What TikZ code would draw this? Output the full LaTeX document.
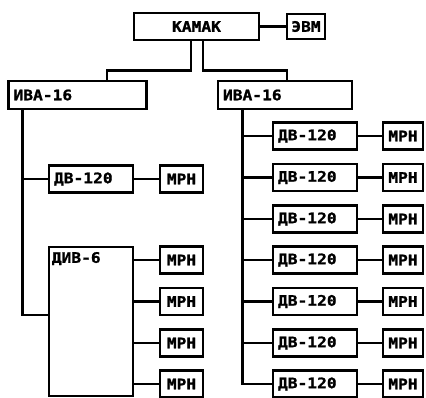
\documentclass[tikz,border=0pt]{standalone}
\usepackage{fontspec}
\newfontfamily\boxfont{DejaVu Sans Mono}[FakeStretch=1.12,FakeBold=1.2]
\begin{document}
\begin{tikzpicture}[x=1pt,y=-1pt,
  txt/.style={inner sep=0pt, font=\boxfont\bfseries\fontsize{14.5}{15}\selectfont},
  box/.style={txt, draw, line width=2.8pt, minimum height=27pt},
  lbox/.style={box, align=left, inner xsep=5pt},
  wire/.style={line width=2.8pt},
]
\useasboundingbox[fill=white] (0,0) rectangle (426,398);

\node[box, minimum width=125pt] (kamak) at (196.5,26.5) {КАМАК};
\node[box, minimum width=38pt, minimum height=25pt] (evm) at (306,26.5) {ЭВМ};
\draw[wire] (kamak) -- (evm);

\node[lbox, minimum height=28pt, text width=128pt] (ivaL) at (77.5,95) {ИВА-16};
\node[lbox, minimum height=28pt, text width=124pt] (ivaR) at (285,95) {ИВА-16};

\draw[wire] ([xshift=-5.5pt]kamak.south) -- ++(0,29) -| ([xshift=29.5pt]ivaL.north);
\draw[wire] ([xshift=6.5pt]kamak.south) -- ++(0,29) -| ([xshift=2pt]ivaR.north);

% left branch
\coordinate (tL) at ([xshift=15pt]ivaL.south west);
\node[lbox, text width=74pt] (dvL) at (91,179) {ДВ-120};
\node[box, minimum width=43pt] (mL) at (181.5,179) {МРН};
\draw[wire] (dvL) -- (mL);

\node[box, minimum width=84pt, minimum height=149pt] (div) at (91,321.5) {};
\node[txt, anchor=west] (divlbl) at ([xshift=4pt,yshift=-13pt]div.north west) {ДИВ-6};
\draw[wire] (tL) |- ([yshift=6.5pt]div.west);
\draw[wire] (dvL.west -| tL) -- (dvL.west);

\foreach \i/\y in {1/260,2/301.5,3/343,4/384}{
  \node[box, minimum width=43pt] (md\i) at (181.5,\y) {МРН};
  \draw[wire] (div.east |- md\i) -- (md\i);
}

% right branch
\coordinate (tR) at ([xshift=26pt]ivaR.south west);
\foreach \i/\y in {1/136,2/177.5,3/219,4/260,5/301.5,6/343,7/384}{
  \node[lbox, text width=74pt] (dv\i) at (315,\y) {ДВ-120};
  \node[box, minimum width=40pt] (mr\i) at (403,\y) {МРН};
  \draw[wire] (dv\i) -- (mr\i);
  \draw[wire] (dv\i.west -| tR) -- (dv\i.west);
}
\draw[wire] (tR) |- (dv7.west);
\end{tikzpicture}
\end{document}
